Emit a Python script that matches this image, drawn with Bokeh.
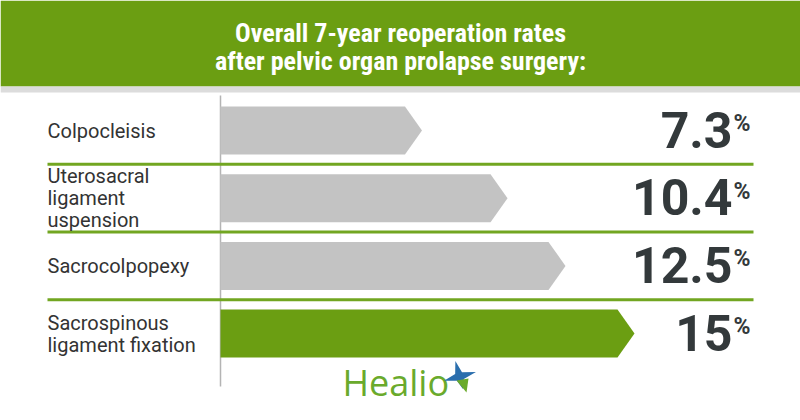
import numpy as np
from bokeh.plotting import figure
from bokeh.models import Range1d
from bokeh.core.properties import value
from bokeh.embed import file_html
from bokeh.resources import INLINE

# ---- data ----
title_lines = ["Overall 7-year reoperation rates", "after pelvic organ prolapse surgery:"]
categories = ["Colpocleisis", "Uterosacral\nligament\nuspension", "Sacrocolpopexy", "Sacrospinous\nligament fixation"]
rates = [7.3, 10.4, 12.5, 15.0]
rate_labels = ["7.3", "10.4", "12.5", "15"]
highlight = [False, False, False, True]
brand = "Healio"

# ---- styling / layout ----
W, H = 800, 420
SX = 27.6      # px per percent
X0 = 220       # px of zero
ROW0 = 130     # px centre of first row
ROWH = 67.7    # px per row

def X(px):
    return (px - X0) / SX

def Y(py):
    return (py - ROW0) / ROWH

GREEN = "#6b9e12"
LINE_GREEN = "#72a621"
GRAY_BAR = "#c3c3c3"
DARK = "#33393b"
LABEL = "#333333"
COND = value("'Roboto Condensed', 'Liberation Sans Narrow', 'DejaVu Sans Condensed', Roboto, sans-serif")
ROBOTO = value("Roboto")

p = figure(width=W, height=H, x_range=Range1d(X(0), X(W)), y_range=Range1d(Y(H), Y(0)),
           output_backend="svg", toolbar_location=None, min_border=0)
p.axis.visible = False
p.grid.visible = False
p.outline_line_color = None
p.background_fill_color = "white"
p.border_fill_color = "white"

# header
p.quad(left=[X(0)], right=[X(W)], top=[Y(0)], bottom=[Y(86)], fill_color=GREEN, line_color=None)
p.quad(left=[X(0)], right=[X(W)], top=[Y(86)], bottom=[Y(92)], fill_color="#dcdcdc", line_color=None)
for i, t in enumerate(title_lines):
    p.text(x=[X(400)], y=[Y(32 + 28.5 * i)], text=[t], text_align="center", text_baseline="middle",
           text_font=COND, text_font_style="bold", text_font_size="26px", text_color="white")

# vertical baseline
p.segment(x0=[0], x1=[0], y0=[Y(95)], y1=[Y(386)], line_color="#b4b4b4", line_width=1.5)

# separators
n = len(categories)
sep_y = [i + 0.5 for i in range(n - 1)]
p.segment(x0=[X(47)] * len(sep_y), x1=[X(753)] * len(sep_y), y0=sep_y, y1=sep_y,
          line_color=LINE_GREEN, line_width=3)

# arrow bars
half = 24 / ROWH
tip = 17 / SX
xs, ys, cols = [], [], []
for i, v in enumerate(rates):
    xs.append([0, v - tip, v, v - tip, 0])
    ys.append([i - half, i - half, i, i + half, i + half])
    cols.append(GREEN if highlight[i] else GRAY_BAR)
p.patches(xs=xs, ys=ys, fill_color=cols, line_color=None)

# category labels
lh = 22 / ROWH
for i, c in enumerate(categories):
    lines = c.split("\n")
    k = len(lines)
    for j, ln in enumerate(lines):
        yy = i + (j - (k - 1) / 2) * lh
        p.text(x=[X(47)], y=[yy], text=[ln], text_align="left", text_baseline="middle",
               text_font=ROBOTO, text_font_size="20px", text_color=LABEL)

# values
p.text(x=[X(732)] * n, y=[i - 1 / ROWH for i in range(n)], text=rate_labels, text_align="right",
       text_baseline="middle", text_font=ROBOTO, text_font_style="bold", text_font_size="50px",
       text_color=DARK)
p.text(x=[X(733)] * n, y=[i - 7 / ROWH for i in range(n)], text=["%"] * n, text_align="left",
       text_baseline="middle", text_font=ROBOTO, text_font_style="bold", text_font_size="23px",
       text_color=DARK)

# logo
p.text(x=[X(342)], y=[Y(382)], text=[brand], text_align="left", text_baseline="middle",
       text_font=value("Open Sans"), text_font_size="36px", text_color="#6aaa2c")
cx, cy = 459, 376
ang = np.deg2rad(np.arange(8) * 45 + 15)
rad = np.array([17, 5, 16, 5, 16, 5, 13, 5])
p.patch(x=[X(cx + r * np.cos(a)) for r, a in zip(rad, ang)],
        y=[Y(cy - r * np.sin(a)) for r, a in zip(rad, ang)],
        fill_color="#2a6ead", line_color=None)
p.patch(x=[X(456), X(468), X(466)], y=[Y(380), Y(378), Y(392)], fill_color="#6aaa2c", line_color=None)

open("out.html", "w").write(file_html(p, INLINE))
